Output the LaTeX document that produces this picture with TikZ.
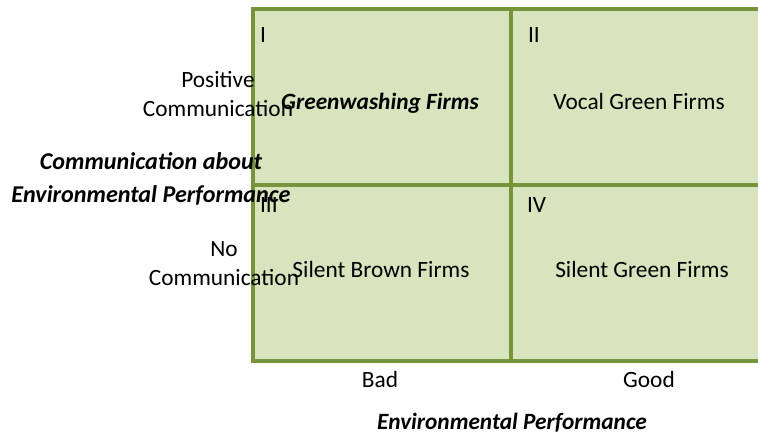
\documentclass[tikz,border=0pt]{standalone}
\usepackage{fontspec}
\setmainfont{Carlito}
\begin{document}
\begin{tikzpicture}[x=0.75pt,y=-0.75pt,
  every node/.style={inner sep=0pt,outer sep=0pt,font=\fontsize{17.5}{22}\selectfont},
  cellfill/.style={fill=cellgreen},
  gridline/.style={draw=linegreen,line width=2.4pt},
  lbl/.style={anchor=base},
  num/.style={anchor=base west},
  emph/.style={font=\fontsize{17.5}{22}\selectfont\bfseries\itshape},
  bigemph/.style={font=\fontsize{18.1}{22}\selectfont\bfseries\itshape}]
\definecolor{cellgreen}{HTML}{D7E4BD}
\definecolor{linegreen}{HTML}{77933C}
\useasboundingbox (0,0) rectangle (758,435);
\begin{scope}
\clip (0,0) rectangle (758,435);
% quadrant grid
\coordinate (tl) at (253,9);
\coordinate (br) at (772,361);
\fill[cellfill] (tl) rectangle (br);
\draw[gridline] (tl) rectangle (br);
\draw[gridline] (511,9) -- (511,361);
\draw[gridline] (253,185) -- (772,185);
\end{scope}
% quadrant numbers
\node[num] (q1) at (260,43) {I};
\node[num] (q2) at (528,43) {II};
\node[num] (q3) at (260,213) {III};
\node[num] (q4) at (527,213) {IV};
% quadrant contents
\node[lbl,emph] (green) at (380,110) {Greenwashing Firms};
\node[lbl] (vocal) at (639,110) {Vocal Green Firms};
\node[lbl] (brown) at (381,277) {Silent Brown Firms};
\node[lbl] (silent) at (642,277) {Silent Green Firms};
% vertical axis
\node[lbl] (pos1) at (218,88) {Positive};
\node[lbl] (pos2) at (218,117) {Communication};
\node[lbl] (no1) at (224,257) {No};
\node[lbl] (no2) at (224,286) {Communication};
\node[lbl,bigemph] (yax1) at (151,170) {Communication about};
\node[lbl,bigemph] (yax2) at (151,203) {Environmental Performance};
% horizontal axis
\node[lbl] (bad) at (380,387) {Bad};
\node[lbl] (good) at (649,387) {Good};
\node[lbl,emph] (xax) at (512,429) {Environmental Performance};
\end{tikzpicture}
\end{document}
